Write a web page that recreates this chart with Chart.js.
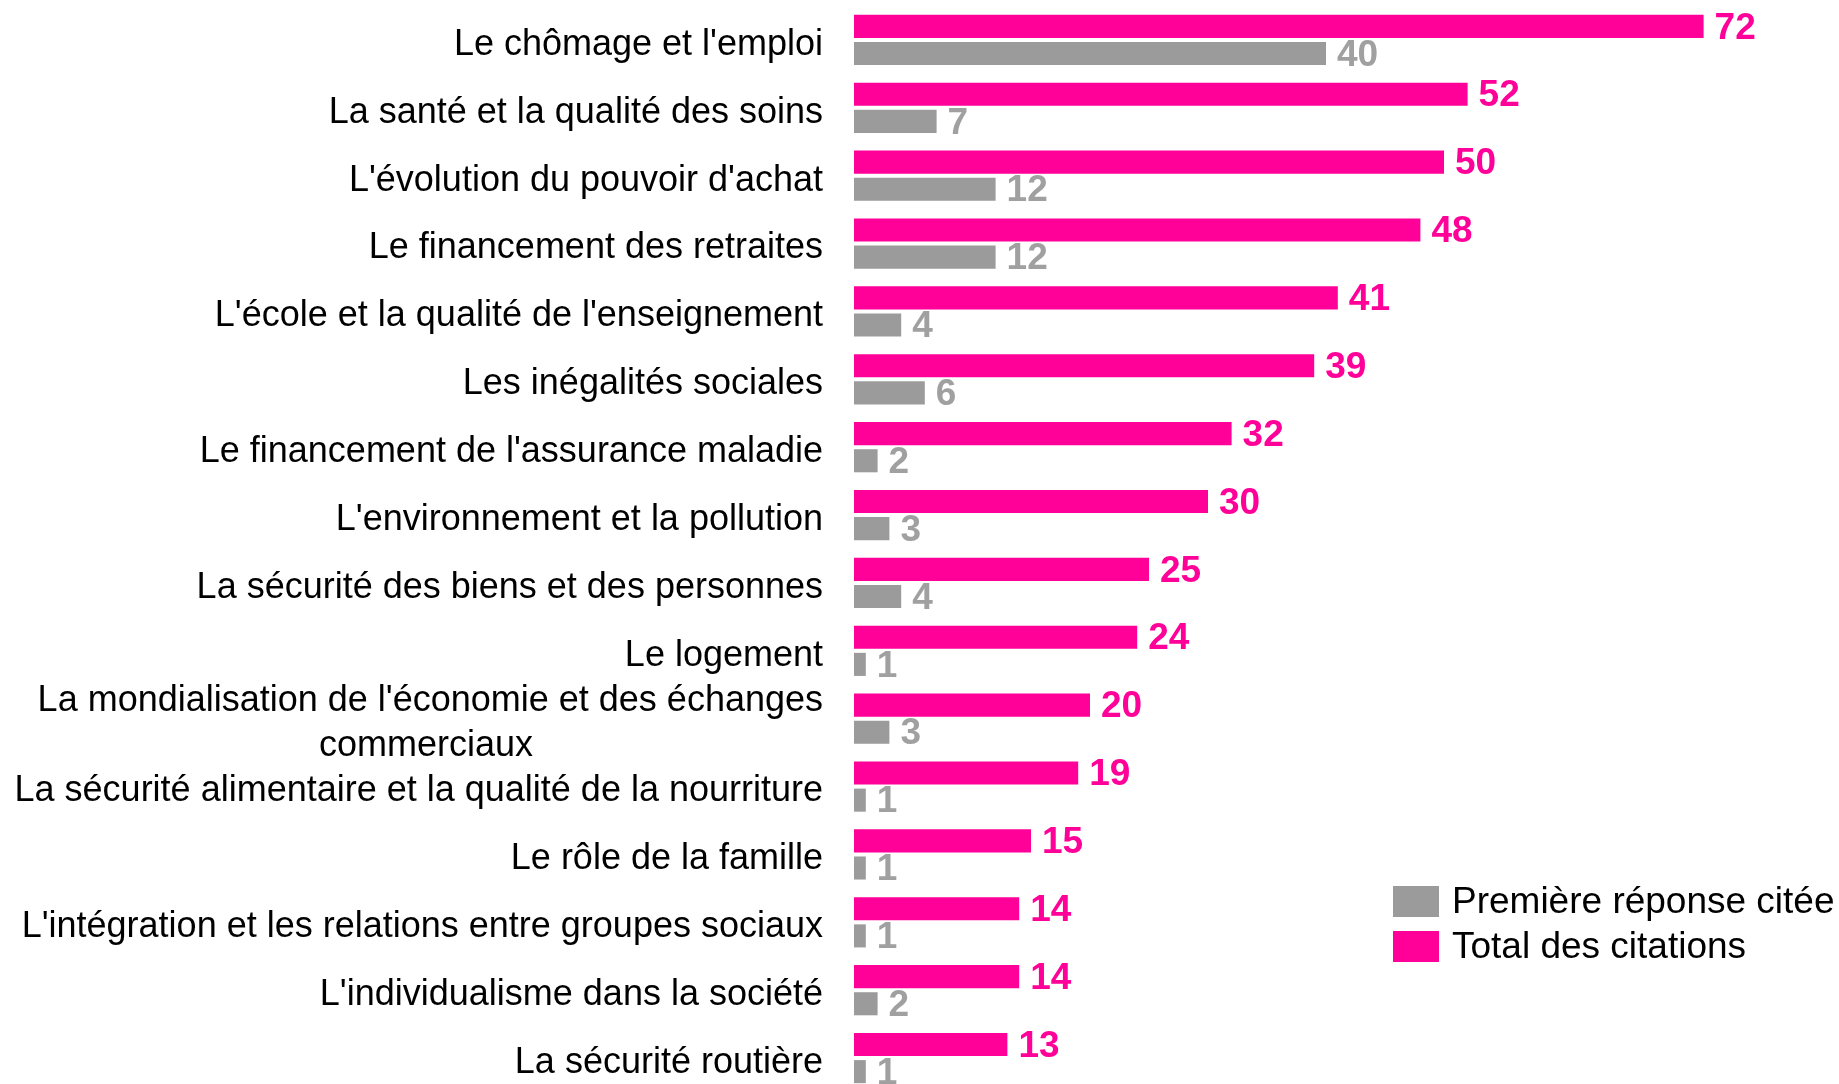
<!DOCTYPE html>
<html lang="fr">
<head>
<meta charset="utf-8">
<script src="https://cdn.jsdelivr.net/npm/chart.js@4/dist/chart.umd.min.js"></script>
<style>
  html, body { margin: 0; padding: 0; background: #fff; overflow: hidden; }
  #wrap { width: 1839px; height: 1092px; }
</style>
</head>
<body>
<div id="wrap"><canvas id="prio"></canvas></div>
<script>
const categories = [
  "Le chômage et l'emploi",
  "La santé et la qualité des soins",
  "L'évolution du pouvoir d'achat",
  "Le financement des retraites",
  "L'école et la qualité de l'enseignement",
  "Les inégalités sociales",
  "Le financement de l'assurance maladie",
  "L'environnement et la pollution",
  "La sécurité des biens et des personnes",
  "Le logement",
  ["La mondialisation de l'économie et des échanges", "commerciaux"],
  "La sécurité alimentaire et la qualité de la nourriture",
  "Le rôle de la famille",
  "L'intégration et les relations entre groupes sociaux",
  "L'individualisme dans la société",
  "La sécurité routière"
];
const totalCitations = [72, 52, 50, 48, 41, 39, 32, 30, 25, 24, 20, 19, 15, 14, 14, 13];
const premiereReponse = [40, 7, 12, 12, 4, 6, 2, 3, 4, 1, 3, 1, 1, 1, 2, 1];

const PINK = '#ff0099';
const GREY = '#9b9b9b';
const FAMILY = '"Liberation Sans", Arial, sans-serif';
const labelFont = '36px ' + FAMILY;

// centre the shorter lines of a wrapped label by padding with spaces
const measureCtx = document.createElement('canvas').getContext('2d');
measureCtx.font = labelFont;
function centreLines(lines) {
  const widths = lines.map(l => measureCtx.measureText(l).width);
  const maxW = Math.max(...widths);
  const sp = measureCtx.measureText(' ').width;
  return lines.map((l, i) => l + ' '.repeat(Math.round((maxW - widths[i]) / 2 / sp)));
}

// value written just right of each bar
const valueLabels = {
  id: 'valueLabels',
  afterDatasetsDraw(chart) {
    const ctx = chart.ctx;
    ctx.save();
    ctx.font = 'bold 37px ' + FAMILY;
    ctx.textAlign = 'left';
    ctx.textBaseline = 'middle';
    chart.data.datasets.forEach((ds, i) => {
      const meta = chart.getDatasetMeta(i);
      ctx.fillStyle = ds.labelColor;
      meta.data.forEach((bar, j) => {
        ctx.fillText(ds.data[j], bar.x + 11, bar.y + 2);
      });
    });
    ctx.restore();
  }
};

// legend box at the lower right, grey entry first
const sideLegend = {
  id: 'sideLegend',
  afterDraw(chart, args, opts) {
    const ctx = chart.ctx;
    ctx.save();
    ctx.font = '37px ' + FAMILY;
    ctx.textBaseline = 'middle';
    ctx.textAlign = 'left';
    const items = chart.data.datasets.slice().reverse();
    items.forEach((ds, i) => {
      const y = opts.top + i * 45;
      ctx.fillStyle = ds.backgroundColor;
      ctx.fillRect(opts.left, y, 46, 31);
      ctx.fillStyle = '#000';
      ctx.fillText(ds.label, opts.left + 59, y + 17);
    });
    ctx.restore();
  }
};

new Chart('prio', {
  type: 'bar',
  data: {
    labels: categories,
    datasets: [{
      label: 'Total des citations',
      data: totalCitations,
      backgroundColor: PINK,
      labelColor: PINK,
      categoryPercentage: 0.8,
      barPercentage: 0.85
    }, {
      label: 'Première réponse citée',
      data: premiereReponse,
      backgroundColor: GREY,
      labelColor: '#a0a0a0',
      categoryPercentage: 0.8,
      barPercentage: 0.85
    }]
  },
  options: {
    indexAxis: 'y',
    responsive: true,
    maintainAspectRatio: false,
    animation: false,
    layout: { padding: { top: 6, right: 41, bottom: 0, left: 0 } },
    scales: {
      x: {
        display: false,
        min: 0,
        max: 80
      },
      y: {
        grid: { display: false, drawTicks: false },
        border: { display: false },
        afterFit(scale) {
          scale.width = 854;
          scale.paddingTop = 0;
          scale.paddingBottom = 0;
        },
        ticks: {
          autoSkip: false,
          color: '#000',
          padding: 31,
          labelOffset: 5,
          font: { family: FAMILY, size: 36, lineHeight: 1.26 },
          callback(value) {
            const lab = this.getLabelForValue(value);
            return Array.isArray(lab) ? centreLines(lab) : lab;
          }
        }
      }
    },
    plugins: {
      legend: { display: false },
      tooltip: { enabled: false },
      sideLegend: { left: 1393, top: 886 }
    }
  },
  plugins: [valueLabels, sideLegend]
});
</script>
</body>
</html>
